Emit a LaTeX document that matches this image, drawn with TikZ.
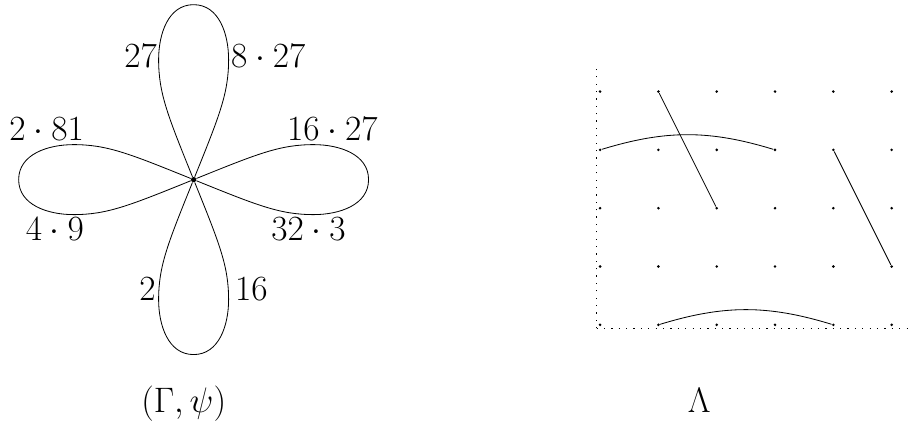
\documentclass[tikz,border=0pt]{standalone}
\usepackage{amsfonts, amsthm, amsmath}
\usepackage{amssymb}
\usepackage{tikz}

\tikzset{
  gdot/.style={circle,fill=black,inner sep=0pt,minimum size=1.4pt},
  vdot/.style={circle,fill=black,inner sep=0pt,minimum size=2.6pt},
  lbl/.style={font=\fontsize{17.8}{21}\selectfont},
  axis/.style={dash pattern=on 0.6pt off 3pt},
  side/.style={out looseness=1.4,in looseness=0.7}
}

\begin{document}
\begin{tikzpicture}
\useasboundingbox (-10.29,-1.73) rectangle (5.28,5.57);

%(Gamma,psi)
\node[vdot] (v) at (-6.97,2.49) {};
\draw (v) to[side,out=68,in=-90] ++(0.6,2.06) to[out=90,in=0] ++(-0.6,0.94) to[out=180,in=90] ++(-0.6,-0.94) to[out=-90,in=112,in looseness=1.4,out looseness=0.7] (v);
\draw (v) to[side,out=-22,in=180] ++(2.06,-0.6) to[out=0,in=-90] ++(0.94,0.6) to[out=90,in=0] ++(-0.94,0.6) to[out=180,in=22,in looseness=1.4,out looseness=0.7] (v);
\draw (v) to[side,out=-112,in=90] ++(-0.6,-2.06) to[out=-90,in=180] ++(0.6,-0.94) to[out=0,in=-90] ++(0.6,0.94) to[out=90,in=-68,in looseness=1.4,out looseness=0.7] (v);
\draw (v) to[side,out=158,in=0] ++(-2.06,0.6) to[out=180,in=90] ++(-0.94,-0.6) to[out=-90,in=180] ++(0.94,-0.6) to[out=0,in=-158,in looseness=1.4,out looseness=0.7] (v);

\node[lbl] (w1) at (-7.88,4.60) {$27$};\node[lbl] (w2) at (-5.69,4.60) {$8\cdot 27$};
\node[lbl] (w3) at (-9.49,3.36) {$2\cdot 81$};\node[lbl] (w4) at (-4.59,3.36) {$16\cdot 27$};
\node[lbl] (w5) at (-9.35,1.65) {$4\cdot 9$};\node[lbl] (w6) at (-5.00,1.65) {$32\cdot 3$};
\node[lbl] (w7) at (-7.76,0.61) {$2$};\node[lbl] (w8) at (-5.98,0.61) {$16$};

\node[lbl,anchor=base] (gp) at (-7.14,-1.51) {$(\Gamma,\psi)$};

%Lambda
\draw[axis] (-0.06,-0.06) -- (-0.06,4.47);
\draw[axis] (-0.06,-0.06) -- (5.28,-0.06);

\node[gdot] (p04) at (0,4) {};\node[gdot] (p14) at (1,4) {};\node[gdot] (p24) at (2,4) {};
\node[gdot] (p34) at (3,4) {};\node[gdot] (p44) at (4,4) {};\node[gdot] (p54) at (5,4) {};
\node[gdot] (p03) at (0,3) {};\node[gdot] (p13) at (1,3) {};\node[gdot] (p23) at (2,3) {};
\node[gdot] (p33) at (3,3) {};\node[gdot] (p43) at (4,3) {};\node[gdot] (p53) at (5,3) {};
\node[gdot] (p02) at (0,2) {};\node[gdot] (p12) at (1,2) {};\node[gdot] (p22) at (2,2) {};
\node[gdot] (p32) at (3,2) {};\node[gdot] (p42) at (4,2) {};\node[gdot] (p52) at (5,2) {};
\node[gdot] (p01) at (0,1) {};\node[gdot] (p11) at (1,1) {};\node[gdot] (p21) at (2,1) {};
\node[gdot] (p31) at (3,1) {};\node[gdot] (p41) at (4,1) {};\node[gdot] (p51) at (5,1) {};
\node[gdot] (p00) at (0,0) {};\node[gdot] (p10) at (1,0) {};\node[gdot] (p20) at (2,0) {};
\node[gdot] (p30) at (3,0) {};\node[gdot] (p40) at (4,0) {};\node[gdot] (p50) at (5,0) {};

\draw (p14) -- (p22);
\draw (p43) -- (p51);
\draw (p03) to[bend left=17] (p33);
\draw (p10) to[bend left=17] (p40);

\node[lbl,anchor=base] (lam) at (1.70,-1.51) {$\Lambda$};

\end{tikzpicture}
\end{document}
